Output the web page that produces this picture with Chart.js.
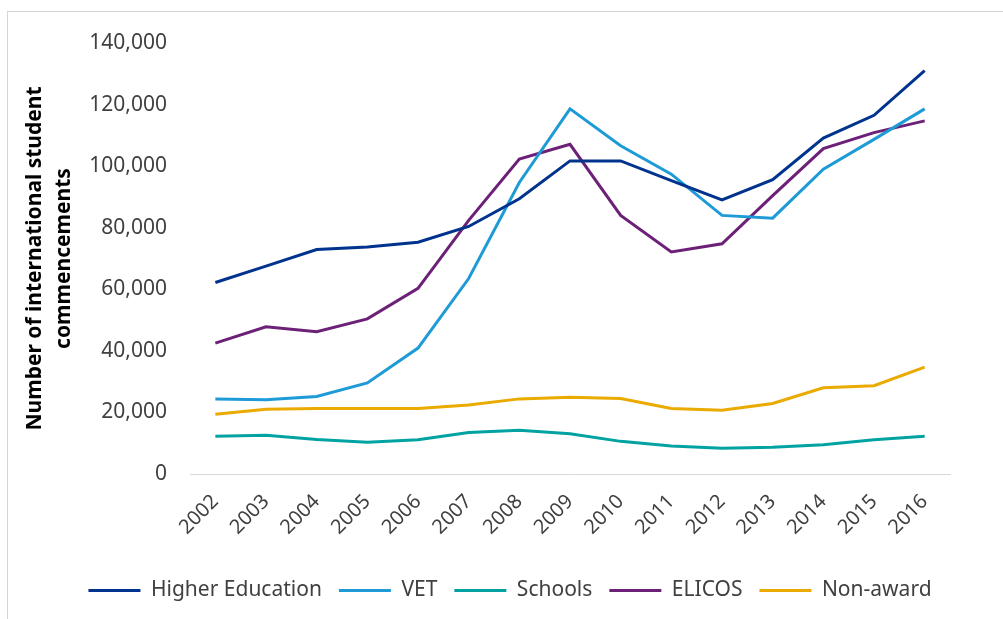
<!DOCTYPE html>
<html>
<head>
<meta charset="utf-8">
<script src="https://cdn.jsdelivr.net/npm/chart.js@4.4.1/dist/chart.umd.min.js"></script>
<style>
  html, body { margin: 0; padding: 0; background: #fff; }
  #frame {
    position: absolute; left: 7px; top: 11px; width: 1000px; height: 620px;
    border-left: 1px solid #d4d4d4; border-top: 1px solid #d4d4d4;
  }
  #wrap { position: absolute; left: 0; top: 0; width: 1003px; height: 619px; }
</style>
</head>
<body>
<div id="frame"></div>
<div id="wrap"><canvas id="lineChart"></canvas></div>
<script>
const years = ["2002", "2003", "2004", "2005", "2006", "2007", "2008", "2009",
  "2010", "2011", "2012", "2013", "2014", "2015", "2016"];

const higherEducation = [62200, 67500, 72900, 73700, 75300, 80400, 89400, 101700,
  101700, 95300, 89000, 95600, 109100, 116500, 131000];
const vet = [24400, 24100, 25200, 29600, 40900, 63500, 94700, 118600,
  106600, 97400, 84000, 83100, 99000, 108700, 118600];
const schools = [12300, 12600, 11200, 10300, 11100, 13500, 14200, 13100,
  10600, 9100, 8400, 8700, 9500, 11100, 12300];
const elicos = [42500, 47800, 46200, 50400, 60300, 82400, 102300, 107100,
  84000, 72100, 74800, 90400, 105700, 110900, 114700];
const nonAward = [19400, 21000, 21300, 21300, 21300, 22400, 24400, 24900,
  24500, 21300, 20700, 22900, 28000, 28700, 34700];

const yTicks = [0, 20000, 40000, 60000, 80000, 100000, 120000, 140000];

const seriesColors = {
  he: "#00338D",     // navy
  vet: "#1E9BD7",    // light blue
  schools: "#00A3A1",// teal
  elicos: "#6D2077", // purple
  nonAward: "#EAAA00"// gold
};

function lineSet(label, data, color) {
  return {
    label: label,
    data: data,
    borderColor: color,
    backgroundColor: color,
    borderWidth: 3,
    pointRadius: 0,
    tension: 0,
    fill: false,
  };
}

const chart = new Chart(document.getElementById("lineChart"), {
  type: "line",
  data: {
    labels: years,
    datasets: [
      lineSet("Higher Education", higherEducation, seriesColors.he),
      lineSet("VET", vet, seriesColors.vet),
      lineSet("Schools", schools, seriesColors.schools),
      lineSet("ELICOS", elicos, seriesColors.elicos),
      lineSet("Non-award", nonAward, seriesColors.nonAward),
    ],
  },
  options: {
    responsive: true,
    maintainAspectRatio: false,
    animation: false,
    // left padding keeps the legend centred where the picture has it
    layout: {
      padding: { left: 70, right: 53, top: 43, bottom: 8 },
    },
    scales: {
      x: {
        offset: true,
        grid: { display: false, drawTicks: false },
        border: { display: true, color: "#d9d9d9", width: 1 },
        ticks: {
          color: "#404040",
          font: { family: "'Noto Sans', sans-serif", size: 20 },
          minRotation: 45,
          maxRotation: 45,
          padding: 16,
        },
        afterFit: (scale) => { scale.height = 89; },
      },
      y: {
        min: 0,
        max: 140000,
        afterBuildTicks: (scale) => {
          scale.ticks = yTicks.map((v) => ({ value: v }));
        },
        grid: { display: false, drawTicks: false },
        border: { display: false },
        ticks: {
          color: "#404040",
          font: { family: "'Noto Sans', sans-serif", size: 21 },
          padding: 23,
          callback: (v) => Number(v).toLocaleString("en-US"),
        },
        title: {
          display: true,
          text: ["Number of international student", "commencements"],
          color: "#000",
          font: { family: "'Noto Sans', sans-serif", size: 21, weight: "bold", lineHeight: 1.35 },
          padding: { top: -49, bottom: 0 },
        },
        afterFit: (scale) => { scale.width = 120; },
      },
    },
    plugins: {
      legend: {
        position: "bottom",
        labels: {
          color: "#404040",
          font: { family: "'Noto Sans', sans-serif", size: 21 },
          boxWidth: 52,
          boxHeight: 3,
          padding: 17,
          generateLabels: (c) =>
            Chart.defaults.plugins.legend.labels.generateLabels(c).map((l) => ({
              ...l,
              lineWidth: 0,
              strokeStyle: "rgba(0,0,0,0)",
            })),
        },
      },
      tooltip: { enabled: false },
    },
  },
});
</script>
</body>
</html>
